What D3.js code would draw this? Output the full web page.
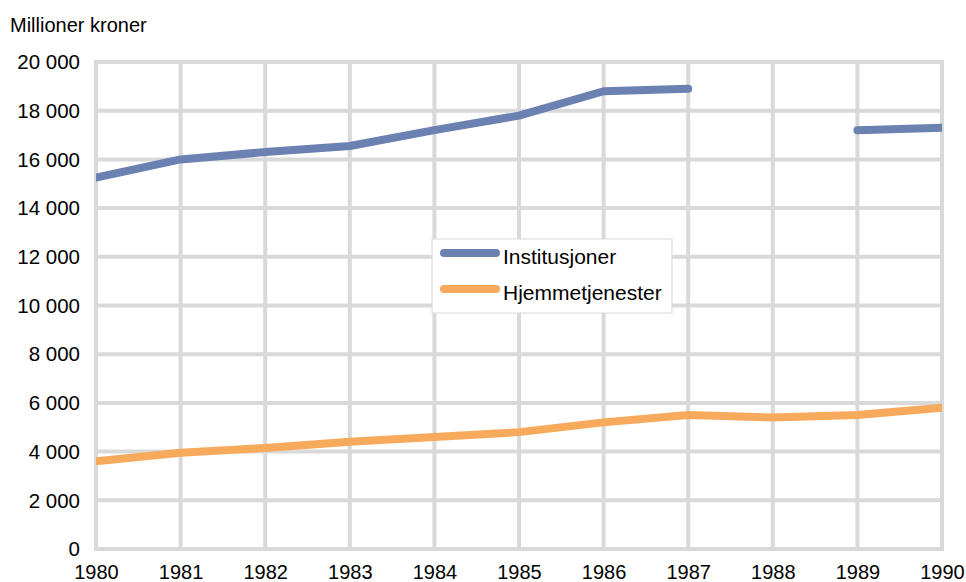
<!DOCTYPE html>
<html>
<head>
<meta charset="utf-8">
<script src="https://cdn.jsdelivr.net/npm/d3@7"></script>
<style>
  body { margin: 0; background: #fff; }
  svg text { font-family: "Liberation Sans", Arial, sans-serif; fill: #000; }
</style>
</head>
<body>
<div id="chart"></div>
<script>
// data (millioner kroner)
const years = [1980, 1981, 1982, 1983, 1984, 1985, 1986, 1987, 1988, 1989, 1990]
const institusjoner = [15250, 16000, 16300, 16550, 17200, 17800, 18800, 18900, null, 17200, 17300]
const hjemmetjenester = [3600, 3950, 4150, 4400, 4600, 4800, 5200, 5500, 5400, 5500, 5800]
const seriesNames = ["Institusjoner", "Hjemmetjenester"]
const seriesColours = ["#6a81b1", "#f7a95c"]
const yTicks = [0, 2000, 4000, 6000, 8000, 10000, 12000, 14000, 16000, 18000, 20000]

const width = 966, height = 582
const margin = {top: 62, right: 24, bottom: 33, left: 96}

const svg = d3.select("#chart").append("svg")
    .attr("width", width)
    .attr("height", height)

// scales
const x = d3.scaleLinear()
    .domain([years[0], years[years.length - 1]])
    .range([margin.left, width - margin.right])

const y = d3.scaleLinear()
    .domain([0, 20000])
    .range([height - margin.bottom, margin.top])

const nb = d3.formatLocale({decimal: ",", thousands: "\u00a0", grouping: [3], currency: ["", ""]})
const fmt = nb.format(",d")

// title
svg.append("text")
    .attr("x", 10)
    .attr("y", 32)
    .style("font-size", "20px")
    .text("Millioner kroner")

// grid
const grid = svg.append("g").attr("id", "grid")
grid.selectAll("line.h")
    .data(yTicks)
    .enter().append("line")
    .attr("class", "h")
    .attr("x1", margin.left).attr("x2", width - margin.right)
    .attr("y1", d => y(d)).attr("y2", d => y(d))
    .attr("stroke", "#d9d9d9")
    .attr("stroke-width", 4)
    .attr("stroke-linecap", "square")

grid.selectAll("line.v")
    .data(years)
    .enter().append("line")
    .attr("class", "v")
    .attr("x1", d => x(d)).attr("x2", d => x(d))
    .attr("y1", y(0)).attr("y2", y(20000))
    .attr("stroke", "#d9d9d9")
    .attr("stroke-width", 4)
    .attr("stroke-linecap", "square")

// axes (labels only)
const yAxis = d3.axisLeft(y).tickValues(yTicks).tickFormat(fmt).tickSize(0).tickPadding(16)
svg.append("g")
    .attr("transform", `translate(${margin.left},0)`)
    .call(yAxis)
    .call(g => g.select(".domain").remove())
    .call(g => g.selectAll("text").style("font-size", "20.5px").attr("dy", "0.33em"))

const xAxis = d3.axisBottom(x).tickValues(years).tickFormat(d3.format("d")).tickSize(0).tickPadding(16)
svg.append("g")
    .attr("transform", `translate(0,${y(0)})`)
    .call(xAxis)
    .call(g => g.select(".domain").remove())
    .call(g => g.selectAll("text").style("font-size", "20px"))

// clip lines to plot area
svg.append("clipPath")
    .attr("id", "plotClip")
    .append("rect")
    .attr("x", margin.left).attr("y", 0)
    .attr("width", width - margin.left - margin.right)
    .attr("height", height)

const line = d3.line()
    .defined(d => d != null)
    .x((d, i) => x(years[i]))
    .y(d => y(d))

const allSeries = [institusjoner, hjemmetjenester]
svg.append("g")
    .attr("clip-path", "url(#plotClip)")
    .selectAll("path")
    .data(allSeries)
    .enter().append("path")
    .attr("d", d => line(d))
    .attr("fill", "none")
    .attr("stroke", (d, i) => seriesColours[i])
    .attr("stroke-width", 8)
    .attr("stroke-linecap", "round")
    .attr("stroke-linejoin", "round")

// legend
const legend = svg.append("g").attr("transform", "translate(432,239)")
legend.append("rect")
    .attr("width", 240).attr("height", 74)
    .attr("fill", "#fff")
    .attr("stroke", "#d9d9d9")
    .attr("stroke-width", 1)

const items = legend.selectAll("g.item")
    .data(seriesNames)
    .enter().append("g")
    .attr("class", "item")
    .attr("transform", (d, i) => `translate(0,${14 + i * 36})`)

items.append("line")
    .attr("x1", 12).attr("x2", 64)
    .attr("y1", 0).attr("y2", 0)
    .attr("stroke", (d, i) => seriesColours[i])
    .attr("stroke-width", 8)
    .attr("stroke-linecap", "round")

items.append("text")
    .attr("x", 71)
    .attr("y", 10.5)
    .style("font-size", "21px")
    .text(d => d)
</script>
</body>
</html>
